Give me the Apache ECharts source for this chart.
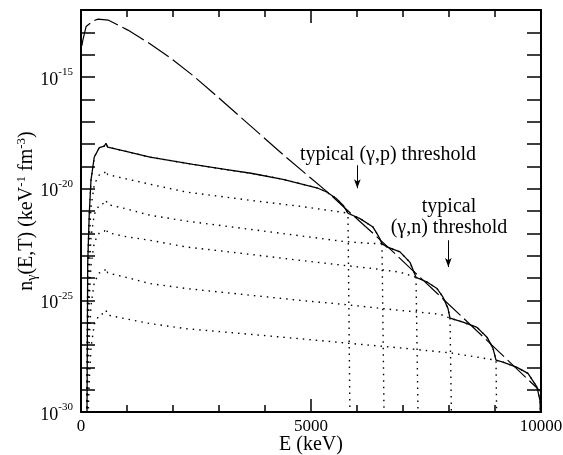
<!DOCTYPE html>
<html>
<head>
<meta charset="utf-8">
<script src="https://cdn.jsdelivr.net/npm/echarts@6.0.0/dist/echarts.min.js"></script>
<style>
  html, body { margin: 0; padding: 0; background: #fff; }
  #chart { width: 563px; height: 455px; }
</style>
</head>
<body>
<div id="chart"></div>
<script>
// [E (keV), log10 n_gamma (keV^-1 fm^-3)]
const planck = [[20, -13.60], [40, -13.35], [110, -12.74], [260, -12.49], [370, -12.41], [590, -12.45],
  [1020, -12.90], [1490, -13.50], [1960, -14.17], [2430, -14.93], [2900, -15.76], [3460, -16.78],
  [4435, -18.55], [4980, -19.50], [5340, -20.12], [5700, -20.80], [6350, -22.00], [6780, -22.82],
  [7220, -23.68], [7800, -24.80], [8870, -26.88], [10000, -29.10]];

const total = [[128, -31], [146, -23.34], [180, -21.11], [217, -19.62], [289, -18.58], [398, -18.16],
  [507, -18.09], [543, -17.97], [580, -18.14], [978, -18.33], [1500, -18.59], [2435, -18.91],
  [3167, -19.15], [3696, -19.31], [4391, -19.58], [5124, -19.96], [5340, -20.15], [5543, -20.43],
  [5696, -20.74], [5804, -21.10], [6065, -21.34], [6348, -21.72], [6457, -22.09], [6543, -22.46],
  [6652, -22.61], [6935, -22.83], [7152, -23.30], [7283, -23.97], [7522, -24.18], [7739, -24.47],
  [7870, -24.86], [7978, -25.36], [8022, -25.80], [8304, -25.98], [8609, -26.21], [8826, -26.65],
  [8957, -27.15], [9022, -27.68], [9174, -27.77], [9478, -28.00], [9717, -28.27], [9913, -28.89],
  [9978, -29.48], [10000, -31]];

// single bremsstrahlung components (dotted)
const brems0 = [[128, -31], [146, -23.34], [180, -21.11], [217, -19.62], [289, -18.58], [398, -18.16],
  [507, -18.09], [543, -17.97], [580, -18.14], [978, -18.33], [1500, -18.59], [2435, -18.91],
  [3167, -19.15], [3696, -19.31], [4391, -19.58], [5124, -19.96], [5340, -20.15], [5543, -20.43],
  [5696, -20.74], [5804, -21.10], [5850, -31]];
const brems1 = [[125, -31], [146, -24.55], [180, -22.31], [217, -20.83], [289, -19.80], [398, -19.38],
  [507, -19.31], [543, -19.18], [580, -19.37], [978, -19.56], [1500, -19.80], [2283, -20.15],
  [3674, -20.52], [4761, -20.79], [5696, -21.06], [5804, -21.10], [6065, -21.34], [6348, -21.72],
  [6457, -22.09], [6543, -22.46], [6593, -31]];
const brems2 = [[125, -31], [146, -25.91], [180, -23.67], [217, -22.19], [289, -21.15], [398, -20.73],
  [507, -20.65], [543, -20.52], [580, -20.71], [978, -20.90], [1500, -21.19], [2283, -21.45],
  [3674, -21.82], [4761, -22.11], [5696, -22.36], [6283, -22.45], [6543, -22.46], [6652, -22.61],
  [6935, -22.83], [7152, -23.30], [7283, -23.97], [7333, -31]];
const brems3 = [[125, -31], [146, -27.16], [180, -24.92], [217, -23.44], [289, -22.40], [398, -21.98],
  [507, -21.91], [543, -21.77], [580, -21.97], [978, -22.15], [1500, -22.31], [2283, -22.61],
  [3674, -22.94], [4761, -23.21], [5696, -23.43], [6283, -23.56], [6935, -23.74], [7283, -23.97],
  [7522, -24.18], [7739, -24.47], [7870, -24.86], [7978, -25.36], [8022, -25.80], [8059, -31]];
const brems4 = [[125, -31], [146, -28.95], [180, -26.71], [217, -25.24], [289, -24.19], [398, -23.77],
  [507, -23.70], [543, -23.56], [580, -23.77], [978, -23.97], [1500, -24.25], [2283, -24.47],
  [3674, -24.77], [4761, -25.00], [5696, -25.18], [6935, -25.45], [7804, -25.62], [8022, -25.80],
  [8304, -25.98], [8609, -26.21], [8826, -26.65], [8957, -27.15], [9022, -27.68], [9040, -31]];
const brems5 = [[125, -31], [146, -30.83], [180, -28.59], [217, -27.12], [289, -26.07], [398, -25.65],
  [507, -25.58], [543, -25.45], [580, -25.66], [978, -25.83], [1500, -26.04], [2283, -26.27],
  [3674, -26.52], [4761, -26.72], [5696, -26.90], [6935, -27.13], [8022, -27.35], [9022, -27.68],
  [9174, -27.77], [9478, -28.00], [9717, -28.27], [9913, -28.89], [9978, -29.48], [10000, -31]];

const xTicks = [0, 5000, 10000];
const yMin = -30, yMax = -12;

const serif = "'Liberation Serif', 'Times New Roman', serif";
const dotted = [brems0, brems1, brems2, brems3, brems4, brems5];

const chart = echarts.init(document.getElementById('chart'));

function xAxis(pos, labels) {
  return {
    type: 'value', position: pos,
    min: xTicks[0], max: xTicks[xTicks.length - 1], interval: xTicks[1] - xTicks[0],
    axisLine: { onZero: false, lineStyle: { color: '#000', width: 2 } },
    axisTick: { inside: true, length: 13, lineStyle: { color: '#000', width: 1.5 } },
    minorTick: { show: true, splitNumber: 5, length: 7, lineStyle: { color: '#000', width: 1.5 } },
    splitLine: { show: false },
    axisLabel: {
      show: labels, color: '#000', fontFamily: serif, fontSize: 17, margin: 6,
      formatter: v => String(v)
    }
  };
}
function yAxis(pos, labels) {
  return {
    type: 'value', position: pos, min: yMin, max: yMax, interval: 1,
    axisLine: { onZero: false, lineStyle: { color: '#000', width: 2 } },
    axisTick: { inside: true, length: 14, lineStyle: { color: '#000', width: 1.5 } },
    splitLine: { show: false },
    axisLabel: {
      show: labels, margin: 8, padding: [6, 0, 0, 0],
      formatter: v => (v % 5 === 0 ? '{b|10}{s|' + v + '}' : ''),
      rich: {
        b: { fontFamily: serif, fontSize: 18, lineHeight: 26, color: '#000' },
        s: { fontFamily: serif, fontSize: 11, lineHeight: 12, verticalAlign: 'top', color: '#000' }
      }
    }
  };
}

const x0 = xAxis('bottom', true);
x0.name = 'E (keV)';
x0.nameLocation = 'middle';
x0.nameGap = 23;
x0.nameMoveOverlap = false;
x0.nameTextStyle = { fontFamily: serif, fontSize: 20, lineHeight: 20, color: '#000' };

const y0 = yAxis('left', true);
y0.name = '{m|n}{g|γ}{m|(E,T) (keV}{p|-1}{m| fm}{p|-3}{m|)}';
y0.nameLocation = 'middle';
y0.nameRotate = 90;
y0.nameGap = 42;
y0.nameMoveOverlap = false;
y0.nameTextStyle = {
  rich: {
    m: { fontFamily: serif, fontSize: 20, lineHeight: 24, color: '#000' },
    g: { fontFamily: serif, fontSize: 14, lineHeight: 14, verticalAlign: 'bottom', color: '#000' },
    p: { fontFamily: serif, fontSize: 13, lineHeight: 13, verticalAlign: 'top', color: '#000' }
  }
};

const series = dotted.map((d, i) => ({
  name: 'E0 ' + i, type: 'line', data: d, symbol: 'none', silent: true,
  lineStyle: { color: '#000', width: 1.4, type: [1.5, 5] }
}));
series.push({
  name: 'sum', type: 'line', data: total, symbol: 'none', silent: true,
  lineStyle: { color: '#000', width: 1.3 }
});
series.push({
  name: 'thermal', type: 'line', data: planck, symbol: 'none', silent: true,
  lineStyle: { color: '#000', width: 1.2, type: [25, 5] },
  markLine: {
    silent: true, symbol: ['none', 'arrow'], symbolSize: [5, 9],
    label: { show: false },
    lineStyle: { color: '#000', type: 'solid', width: 1 },
    data: [
      [{ coord: [6007, -18.95] }, { coord: [6007, -19.98] }],
      [{ coord: [7985, -22.31] }, { coord: [7985, -23.51] }]
    ]
  },
  markPoint: {
    silent: true, symbol: 'circle', symbolSize: 1,
    itemStyle: { color: 'rgba(0,0,0,0)' },
    label: {
      show: true, position: 'inside', color: '#000', fontFamily: serif,
      fontSize: 20, lineHeight: 21, formatter: p => p.name
    },
    data: [
      { name: 'typical (γ,p) threshold', coord: [6674, -18.50] },
      { name: 'typical\n(γ,n) threshold', coord: [8000, -21.28] }
    ]
  }
});

chart.setOption({
  animation: false,
  grid: { left: 81, right: 22, top: 10, bottom: 43, containLabel: false, outerBoundsMode: 'none' },
  xAxis: [x0, xAxis('top', false)],
  yAxis: [y0, yAxis('right', false)],
  series: series
});
</script>
</body>
</html>
